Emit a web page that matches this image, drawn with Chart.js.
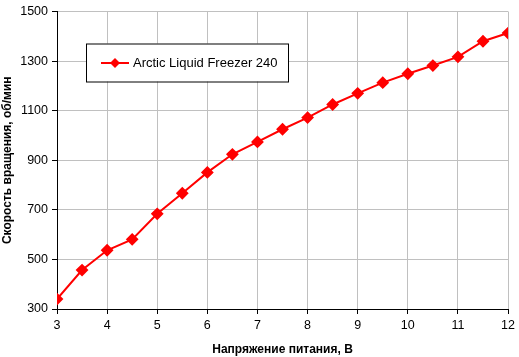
<!DOCTYPE html>
<html><head><meta charset="utf-8">
<script src="https://cdn.jsdelivr.net/npm/chart.js@4"></script>
<style>html,body{margin:0;padding:0;background:#fff}#c{display:block}</style>
</head><body>
<canvas id="c" width="519" height="357"></canvas>
<script>
const voltages = [3,3.5,4,4.5,5,5.5,6,6.5,7,7.5,8,8.5,9,9.5,10,10.5,11,11.5,12];
const rpm = [340,457,537,581,684,767,851,924,974,1025,1072,1125,1170,1213,1249,1282,1317,1380,1413];
const seriesName = 'Arctic Liquid Freezer 240';
const xTitle = 'Напряжение питания, В';
const yTitle = 'Скорость вращения, об/мин';

const FONT = '"Liberation Sans", Arial, sans-serif';

const legendPlugin = {
  id: 'boxLegend',
  afterDraw(chart) {
    const ctx = chart.ctx;
    const a = chart.chartArea;
    const x = a.left + 29, y = a.top + 32, w = 202, h = 38;
    ctx.save();
    ctx.fillStyle = '#fff';
    ctx.fillRect(x, y, w, h);
    ctx.strokeStyle = '#000';
    ctx.lineWidth = 1;
    ctx.strokeRect(x + 0.5, y + 0.5, w, h);
    const cy = y + h / 2 + 0.5;
    ctx.strokeStyle = '#ff0000';
    ctx.lineWidth = 2;
    ctx.beginPath(); ctx.moveTo(x + 15, cy); ctx.lineTo(x + 43, cy); ctx.stroke();
    ctx.fillStyle = '#ff0000';
    ctx.beginPath();
    const mx = x + 29, r = 5;
    ctx.moveTo(mx, cy - r); ctx.lineTo(mx + r, cy); ctx.lineTo(mx, cy + r); ctx.lineTo(mx - r, cy); ctx.closePath(); ctx.fill();
    ctx.fillStyle = '#000';
    ctx.font = '13px ' + FONT;
    ctx.textBaseline = 'middle';
    ctx.fillText(seriesName, x + 47, cy);
    ctx.restore();
  }
};

new Chart(document.getElementById('c'), {
  type: 'line',
  data: {
    datasets: [{
      label: seriesName,
      data: voltages.map((v, i) => ({x: v, y: rpm[i]})),
      borderColor: '#ff0000',
      backgroundColor: '#ff0000',
      borderWidth: 2,
      pointStyle: 'rectRot',
      pointRadius: 5,
      pointHoverRadius: 5,
      tension: 0
    }]
  },
  options: {
    responsive: false,
    animation: false,
    layout: {padding: {top: 5, right: 6, left: 0, bottom: 0}},
    plugins: {legend: {display: false}, tooltip: {enabled: false}},
    scales: {
      x: {
        type: 'linear', min: 3, max: 12,
        ticks: {stepSize: 1, color: '#000', font: {family: FONT, size: 12.5}, padding: 4, callback: v => String(v)},
        grid: {color: '#c0c0c0', tickColor: '#000', tickLength: 5, lineWidth: 1},
        border: {color: '#000', width: 1},
        title: {display: true, text: xTitle, color: '#000', font: {family: FONT, size: 12, weight: 'bold'}, padding: {top: 8, bottom: 0}},
        afterFit(s) { s.height = 48; }
      },
      y: {
        min: 300, max: 1500,
        ticks: {stepSize: 200, color: '#000', font: {family: FONT, size: 12.5}, padding: 4, callback: v => String(v)},
        grid: {color: '#c0c0c0', tickColor: '#000', tickLength: 5, lineWidth: 1},
        border: {color: '#000', width: 1},
        title: {display: true, text: yTitle, color: '#000', font: {family: FONT, size: 12, weight: 'bold'}, padding: {top: 0, bottom: 0}},
        afterFit(s) { s.width = 57; }
      }
    }
  },
  plugins: [legendPlugin]
});
</script>
</body></html>
